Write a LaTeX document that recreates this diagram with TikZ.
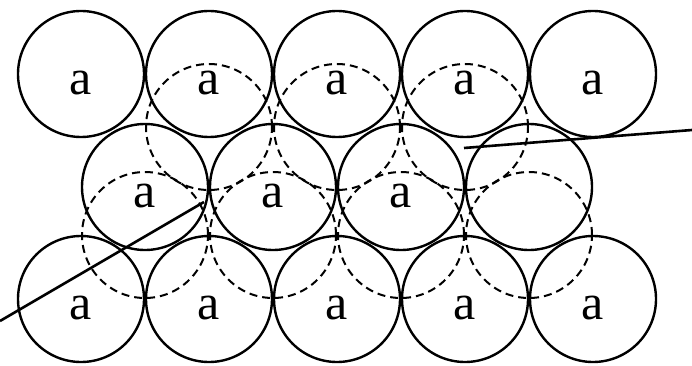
\documentclass[tikz,border=0pt]{standalone}
\usepackage{fontspec}
\setmainfont{Liberation Serif}
\begin{document}
\begin{tikzpicture}[x=1pt,y=-1pt,
  ball/.style={circle, draw, line width=2.4pt, minimum size=126pt, inner sep=0pt,
    text height=41pt, text depth=0pt, font=\fontsize{50}{50}\selectfont},
  hidden/.style={circle, draw, line width=2pt, dash pattern=on 8pt off 5pt,
    minimum size=126pt, inner sep=0pt},
  pointer/.style={line width=2.6pt}]
\useasboundingbox (0,0) rectangle (692,366);
% top row
\node[ball] (t1) at (81,74) {a};
\node[ball] (t2) at (209,74) {a};
\node[ball] (t3) at (337,74) {a};
\node[ball] (t4) at (465,74) {a};
\node[ball] (t5) at (593,74) {a};
% middle row
\node[ball] (m1) at (145,187) {a};
\node[ball] (m2) at (273,187) {a};
\node[ball] (m3) at (401,187) {a};
\node[ball] (m4) at (529,187) {};
% bottom row
\node[ball] (b1) at (81,299) {a};
\node[ball] (b2) at (209,299) {a};
\node[ball] (b3) at (337,299) {a};
\node[ball] (b4) at (465,299) {a};
\node[ball] (b5) at (593,299) {a};
% dashed layer
\node[hidden] (d1) at (209,127) {};
\node[hidden] (d2) at (337,127) {};
\node[hidden] (d3) at (465,127) {};
\node[hidden] (e1) at (145,235) {};
\node[hidden] (e2) at (273,235) {};
\node[hidden] (e3) at (401,235) {};
\node[hidden] (e4) at (529,235) {};
% pointers
\coordinate (p1a) at (0,321);
\coordinate (p1b) at (204,202);
\coordinate (p2a) at (464,148);
\coordinate (p2b) at (692,130);
\draw[pointer] (p1a) -- (p1b);
\draw[pointer] (p2a) -- (p2b);
\end{tikzpicture}
\end{document}
